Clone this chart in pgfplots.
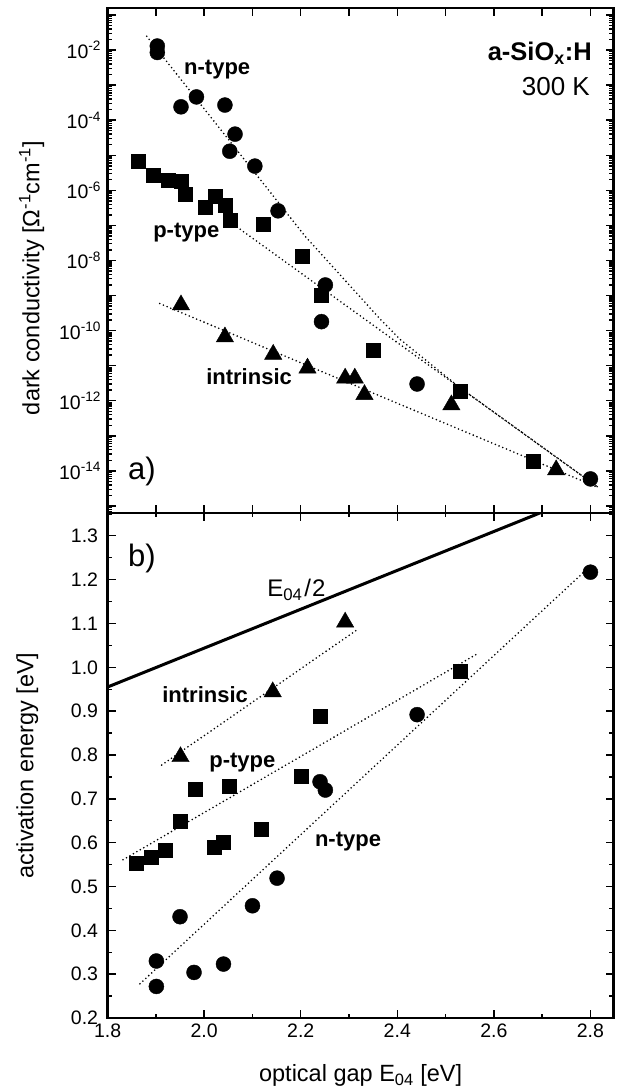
\documentclass[border=0pt]{standalone}
\usepackage{fontspec}
\setmainfont{Liberation Sans}
\usepackage{pgfplots}
\pgfplotsset{compat=1.18}
\def\minorlist{1e-20}
\foreach \k in {-16,...,0}{\foreach \m in {2,...,9}{\xdef\minorlist{\minorlist,\m e\k}}}
\pgfplotsset{
  common/.style={
    scale only axis, width=506pt, height=505pt,
    xmin=1.8, xmax=2.848,
    axis line style={line width=2.4pt},
    tick style={line width=1.4pt, black},
    major tick length=8pt, minor tick length=4.5pt,
    tick label style={font=\fontsize{19.5}{22}\selectfont},
    label style={font=\fontsize{23.5}{27}\selectfont},
    /pgf/number format/assume math mode=true,
    clip=true,
  },
  dotline/.style={black, line width=1.8pt, line cap=round, dash pattern=on 0pt off 4pt},
  circ/.style={only marks, mark=*, mark size=7.5pt, mark options={fill=black, draw=black}},
  sq/.style={only marks, mark=square*, mark size=7pt, mark options={fill=black, draw=black}},
  tri/.style={only marks, mark=triangle*, mark size=10pt, mark options={fill=black, draw=black}},
}
\begin{document}
\begin{tikzpicture}
\path[use as bounding box] (-107.6pt,-73pt) rectangle (510.4pt,1018pt);
% ---------------- top panel ----------------
\begin{axis}[common, at={(0pt,505pt)}, anchor=south west,
  ymode=log, ymin=6.3e-16, ymax=0.158,
  xtick={1.8,1.9,...,2.85}, xticklabels={},
  ytick={1e-15,1e-14,1e-13,1e-12,1e-11,1e-10,1e-9,1e-8,1e-7,1e-6,1e-5,1e-4,1e-3,1e-2,1e-1},
  yticklabels={,10\textsuperscript{-14},,10\textsuperscript{-12},,10\textsuperscript{-10},,10\textsuperscript{-8},,10\textsuperscript{-6},,10\textsuperscript{-4},,10\textsuperscript{-2},},
  minor ytick/.expand once=\minorlist,
  yticklabel style={xshift=-3pt},
  ylabel={dark conductivity [Ω\textsuperscript{-1}cm\textsuperscript{-1}]},
  ylabel style={at={(axis description cs:-0.135,0.465)}, anchor=base, rotate=0},
]
% fit lines
\addplot[dotline] coordinates {(1.881,2.47e-2) (2.209,4.92e-8) (2.365,2.09e-10) (2.406,5.6e-11) (2.530,2.34e-12) (2.817,3.31e-15)};
\addplot[dotline] coordinates {(2.068,9.0e-8) (2.530,2.34e-12) (2.817,3.31e-15)};
\addplot[dotline] coordinates {(1.908,5.9e-10) (2.817,3.31e-15)};
% n-type
\addplot[circ] coordinates {(1.903,1.3e-2) (1.903,8.5e-3) (1.952,2.4e-4) (1.984,4.6e-4) (2.043,2.7e-4) (2.064,4.0e-5) (2.053,1.3e-5) (2.105,4.9e-6) (2.153,2.6e-7) (2.251,2.0e-9) (2.243,1.8e-10) (2.441,3.0e-12) (2.800,5.9e-15)};
% p-type
\addplot[sq] coordinates {(1.864,6.7e-6) (1.895,2.7e-6) (1.926,1.9e-6) (1.953,1.85e-6) (1.960,7.8e-7) (2.002,3.2e-7) (2.023,6.8e-7) (2.044,3.8e-7) (2.054,1.45e-7) (2.123,1.1e-7) (2.203,1.3e-8) (2.243,1.0e-9) (2.351,2.8e-11) (2.531,1.9e-12) (2.682,1.9e-14)};
% intrinsic
\addplot[tri] coordinates {(1.952,5.4e-10) (2.043,6.6e-11) (2.143,2.1e-11) (2.214,8.5e-12) (2.292,4.4e-12) (2.312,4.4e-12) (2.332,1.5e-12) (2.512,7.6e-13) (2.729,1.07e-14)};
\node[anchor=east, font=\fontsize{25.5}{30}\selectfont\bfseries] at (axis cs:2.81,7.9e-3) {a-SiO\textsubscript{x}:H};
\node[anchor=east, font=\fontsize{26}{30}\selectfont] at (axis cs:2.806,9.1e-4) {300 K};
\node[font=\fontsize{22}{26}\selectfont\bfseries] at (axis cs:2.027,2.8e-3) {n-type};
\node[font=\fontsize{22}{26}\selectfont\bfseries] at (axis cs:1.963,6.3e-8) {p-type};
\node[font=\fontsize{22}{26}\selectfont\bfseries] at (axis cs:2.093,4.9e-12) {intrinsic};
\node[font=\fontsize{31}{34}\selectfont] at (axis cs:1.871,9.5e-15) {a)};
\end{axis}
% ---------------- bottom panel ----------------
\begin{axis}[common, at={(0pt,0pt)}, anchor=south west,
  ymin=0.2, ymax=1.352,
  xtick={1.8,2.0,...,2.85}, minor xtick={1.9,2.1,...,2.75},
  ytick={0.2,0.3,...,1.35}, minor ytick={0.25,0.35,...,1.35},
  xticklabel style={yshift=-2pt, /pgf/number format/.cd, fixed, fixed zerofill, precision=1},
  yticklabel style={xshift=-6pt, /pgf/number format/.cd, fixed, fixed zerofill, precision=1},
  xlabel={optical gap E\textsubscript{04} [eV]},
  xlabel style={at={(axis description cs:0.5,-0.126)}, anchor=base},
  ylabel={activation energy [eV]},
  ylabel style={at={(axis description cs:-0.1466,0.5)}, anchor=base, rotate=0},
]
\addplot[black, line width=3pt] coordinates {(1.8,0.955) (2.72,1.363)};
\addplot[dotline] coordinates {(1.912,0.777) (2.316,1.085)};
\addplot[dotline] coordinates {(1.832,0.561) (2.566,1.031)};
\addplot[dotline] coordinates {(1.867,0.278) (2.798,1.229)};
\addplot[tri] coordinates {(1.951,0.796) (2.142,0.944) (2.292,1.103)};
\addplot[sq] coordinates {(1.860,0.553) (1.891,0.566) (1.920,0.583) (1.951,0.650) (1.981,0.722) (2.020,0.589) (2.040,0.602) (2.051,0.729) (2.119,0.630) (2.200,0.752) (2.240,0.889) (2.531,0.992)};
\addplot[circ] coordinates {(1.901,0.272) (1.901,0.330) (1.950,0.431) (1.979,0.304) (2.040,0.323) (2.100,0.456) (2.151,0.519) (2.240,0.739) (2.251,0.720) (2.441,0.892) (2.800,1.217)};
\node[font=\fontsize{31}{34}\selectfont] at (axis cs:1.871,1.249) {b)};
\node[font=\fontsize{24}{28}\selectfont] at (axis cs:2.191,1.177) {E\textsubscript{04}\hspace{2pt}/\hspace{1pt}2};
\node[font=\fontsize{22}{26}\selectfont\bfseries] at (axis cs:2.002,0.937) {intrinsic};
\node[font=\fontsize{22}{26}\selectfont\bfseries] at (axis cs:2.079,0.782) {p-type};
\node[font=\fontsize{22}{26}\selectfont\bfseries] at (axis cs:2.298,0.602) {n-type};
\end{axis}
\end{tikzpicture}
\end{document}
